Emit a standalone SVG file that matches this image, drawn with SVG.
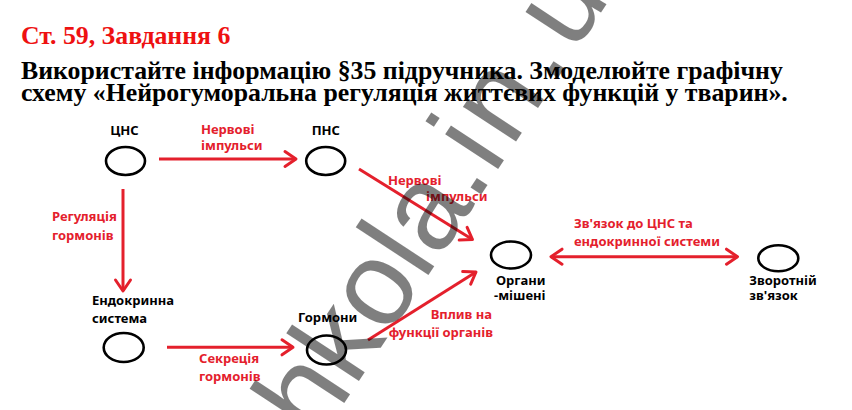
<svg xmlns="http://www.w3.org/2000/svg" width="852" height="410" viewBox="0 0 852 410">
<defs>
<style>
.title{font-family:"Liberation Serif","Times New Roman",serif;font-weight:bold;font-size:25.8px}
.lbl{font-family:"Noto Sans","Open Sans",sans-serif;font-weight:bold;font-size:13px}
.red{fill:#e4202c}
.blk{fill:#000}
.node ellipse{fill:none;stroke:#000;stroke-width:2.6}
.conn line{stroke:#e4202c;stroke-width:3;fill:none}
.wm{font-family:"Liberation Sans",Arial,sans-serif;font-size:120px;fill:#000;fill-opacity:0.5}
</style>
<marker id="ah" markerUnits="userSpaceOnUse" viewBox="-14 -10 17 20" refX="0" refY="0" markerWidth="17" markerHeight="20" orient="auto-start-reverse">
<path d="M-11,-7.5 L0,0 L-11,7.5" fill="none" stroke="#e4202c" stroke-width="3" stroke-linecap="round" stroke-linejoin="round"/>
</marker>
</defs>
<rect width="852" height="410" fill="#fff"/>
<g id="title">
<text class="title" x="21" y="44" fill="#ee1111">Ст. 59, Завдання 6</text>
<text class="title blk" x="21" y="79">Використайте інформацію §35 підручника. Змоделюйте графічну</text>
<text class="title blk" x="21" y="101">схему «Нейрогуморальна регуляція життєвих функцій у тварин».</text>
</g>
<g class="conn" id="connectors">
<line x1="159" y1="159" x2="296" y2="159" marker-end="url(#ah)"/>
<line x1="123" y1="189" x2="123" y2="291" marker-end="url(#ah)"/>
<line x1="167" y1="347.3" x2="293" y2="347.3" marker-end="url(#ah)"/>
<line x1="368" y1="340" x2="476" y2="272" marker-end="url(#ah)"/>
<line x1="359" y1="169" x2="472.5" y2="239.5" marker-end="url(#ah)"/>
<line x1="551" y1="256.7" x2="737.5" y2="256.7" marker-start="url(#ah)" marker-end="url(#ah)"/>
</g>
<g id="edge-labels">
<text class="lbl red" x="201" y="134">Нервові</text>
<text class="lbl red" x="201" y="150">імпульси</text>
<text class="lbl red" x="52" y="221">Регуляція</text>
<text class="lbl red" x="52" y="239.5">гормонів</text>
<text class="lbl red" x="199" y="363">Секреція</text>
<text class="lbl red" x="199" y="380.5">гормонів</text>
<text class="lbl red" x="492" y="319" text-anchor="end">Вплив на</text>
<text class="lbl red" x="493" y="336.5" text-anchor="end">функції органів</text>
<text class="lbl red" x="388" y="185">Нервові</text>
<text class="lbl red" x="426" y="201">імпульси</text>
<text class="lbl red" x="574" y="228">Зв'язок до ЦНС та</text>
<text class="lbl red" x="574" y="245.5">ендокринної системи</text>
</g>
<g class="node" id="cns">
<ellipse cx="125.5" cy="161" rx="19.5" ry="14"/>
<text class="lbl blk" x="124.5" y="135" text-anchor="middle">ЦНС</text>
</g>
<g class="node" id="pns">
<ellipse cx="325.7" cy="161" rx="19.5" ry="14"/>
<text class="lbl blk" x="325.8" y="135" text-anchor="middle">ПНС</text>
</g>
<g class="node" id="endocrine">
<ellipse cx="123.7" cy="347.5" rx="20" ry="14.5"/>
<text class="lbl blk" x="92" y="305">Ендокринна</text>
<text class="lbl blk" x="92" y="322.5">система</text>
</g>
<g class="node" id="hormones">
<ellipse cx="326.5" cy="350" rx="19.5" ry="14.5"/>
<text class="lbl blk" x="298" y="321.5">Гормони</text>
</g>
<g class="node" id="targets">
<ellipse cx="511" cy="255" rx="20" ry="13.5"/>
<text class="lbl blk" x="496" y="284.5">Органи</text>
<text class="lbl blk" x="494" y="299.5">-мішені</text>
</g>
<g class="node" id="feedback">
<ellipse cx="778.3" cy="258.3" rx="20" ry="13"/>
<text class="lbl blk" x="749.3" y="285">Зворотній</text>
<text class="lbl blk" x="749.3" y="300">зв'язок</text>
</g>
<text class="wm" transform="translate(284.9,493.6) rotate(-56.7)">shkola.i<tspan dx="6">n</tspan><tspan dx="7">.</tspan><tspan dx="7">u</tspan><tspan dx="3">a</tspan></text>
</svg>
